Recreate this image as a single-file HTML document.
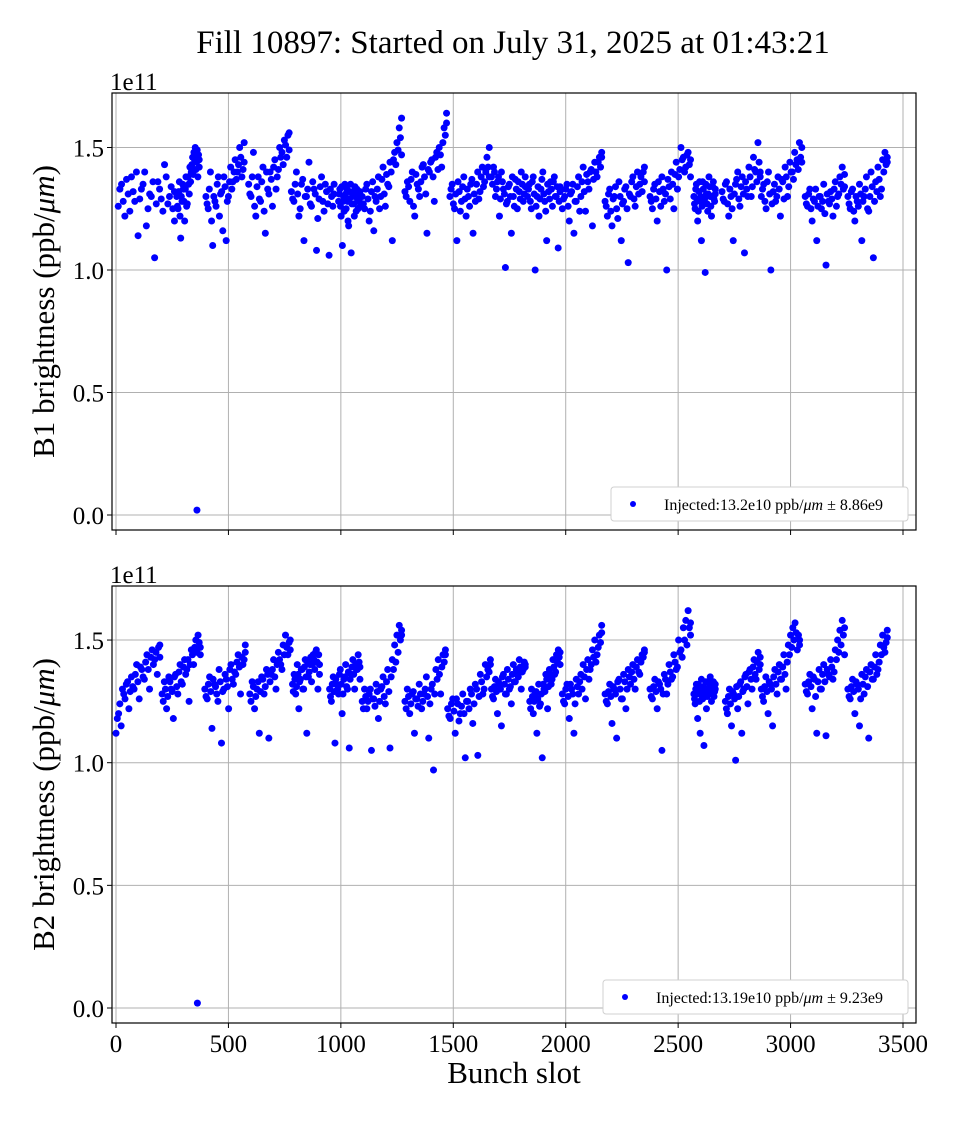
<!DOCTYPE html>
<html><head><meta charset="utf-8"><style>
body{margin:0;background:#fff}
svg{font-family:"Liberation Serif",serif}
</style></head><body>
<svg id="c" width="960" height="1120" xmlns="http://www.w3.org/2000/svg">
<text x="513" y="53" font-size="33" text-anchor="middle">Fill 10897: Started on July 31, 2025 at 01:43:21</text>
</svg>
<script>
// ---- data (values in units of 1e11 ppb/um) ----
const trainStartB1=[10,270,400,590,780,990,1095,1285,1485,1670,1830,1985,2175,2375,2570,2695,2870,3065,3255];
const trainEndB1=[260,370,570,770,970,1085,1270,1470,1660,1820,1975,2160,2350,2555,2665,2865,3050,3240,3430];
const valuesB1=[
[1.26,1.35,1.22,1.31,1.38,1.28,1.14,1.33,1.40,1.25,1.30,1.05,1.36,1.29,1.43,1.27,1.34,1.20],
[1.30,1.25,1.36,1.13,1.28,1.33,1.20,1.38,1.27,1.35,1.42,1.40,1.46,1.48,1.50,1.44,1.38,1.45],
[1.30,1.25,1.40,1.10,1.28,1.35,1.22,1.32,1.38,1.12,1.30,1.42,1.36,1.45,1.40,1.50,1.38,1.52],
[1.35,1.30,1.48,1.22,1.38,1.28,1.42,1.15,1.33,1.40,1.26,1.45,1.38,1.50,1.48,1.53,1.46,1.56],
[1.32,1.28,1.40,1.22,1.35,1.12,1.30,1.44,1.26,1.33,1.08,1.29,1.38,1.24,1.32,1.06,1.30,1.35],
[1.28,1.33,1.22,1.10,1.30,1.35,1.25,1.28,1.18,1.32,1.07,1.30,1.27,1.34,1.24,1.29,1.31,1.26],
[1.30,1.25,1.35,1.20,1.32,1.16,1.28,1.38,1.30,1.42,1.26,1.35,1.44,1.12,1.48,1.52,1.58,1.62],
[1.32,1.36,1.28,1.40,1.22,1.35,1.30,1.42,1.38,1.15,1.40,1.45,1.28,1.48,1.50,1.42,1.58,1.64],
[1.30,1.35,1.25,1.12,1.32,1.28,1.38,1.22,1.30,1.35,1.15,1.28,1.40,1.32,1.42,1.36,1.46,1.50],
[1.38,1.42,1.30,1.36,1.22,1.40,1.33,1.01,1.28,1.35,1.15,1.30,1.37,1.25,1.32,1.40,1.28,1.34],
[1.30,1.35,1.25,1.38,1.00,1.30,1.22,1.33,1.40,1.28,1.12,1.32,1.36,1.26,1.38,1.30,1.09,1.34],
[1.25,1.30,1.35,1.20,1.32,1.15,1.28,1.38,1.30,1.42,1.24,1.36,1.40,1.18,1.44,1.38,1.46,1.48],
[1.28,1.22,1.33,1.18,1.30,1.25,1.36,1.12,1.28,1.34,1.03,1.30,1.38,1.26,1.40,1.35,1.32,1.42],
[1.30,1.25,1.35,1.20,1.32,1.38,1.28,1.00,1.34,1.40,1.25,1.44,1.38,1.50,1.46,1.42,1.48,1.38],
[1.30,1.25,1.35,1.20,1.32,1.28,1.12,1.36,1.27,0.99,1.31,1.24,1.38,1.30,1.22,1.34,1.29,1.33],
[1.32,1.28,1.36,1.22,1.30,1.12,1.35,1.40,1.26,1.38,1.07,1.33,1.42,1.30,1.46,1.40,1.52,1.38],
[1.30,1.35,1.25,1.40,1.00,1.32,1.28,1.38,1.22,1.36,1.42,1.30,1.44,1.40,1.48,1.45,1.52,1.50],
[1.30,1.26,1.33,1.20,1.28,1.12,1.30,1.25,1.35,1.02,1.28,1.32,1.22,1.36,1.30,1.38,1.42,1.34],
[1.30,1.25,1.33,1.20,1.28,1.35,1.12,1.30,1.38,1.24,1.40,1.05,1.36,1.42,1.30,1.45,1.48,1.44]];
const valuesB1b=[
[1.33,1.28,1.37,1.24,1.32,1.40,1.29,1.35,1.18,1.31,1.36,1.27,1.33,1.24,1.38,1.30,1.25,1.32],
[1.26,1.32,1.22,1.30,1.35,1.28,1.33,1.26,1.38,1.31,1.36,1.43,1.39,1.45,1.41,1.49,1.47,1.42],
[1.27,1.33,1.20,1.30,1.26,1.38,1.31,1.16,1.34,1.28,1.36,1.33,1.40,1.37,1.43,1.46,1.41,1.44],
[1.31,1.38,1.26,1.34,1.29,1.36,1.24,1.40,1.31,1.37,1.42,1.33,1.41,1.46,1.43,1.51,1.55,1.49],
[1.29,1.35,1.31,1.25,1.37,1.30,1.33,1.27,1.36,1.31,1.21,1.34,1.28,1.35,1.27,1.33,1.26,1.31],
[1.31,1.26,1.34,1.28,1.24,1.31,1.33,1.20,1.29,1.35,1.27,1.32,1.22,1.30,1.33,1.25,1.28,1.32],
[1.27,1.33,1.29,1.24,1.36,1.30,1.33,1.25,1.37,1.31,1.39,1.34,1.40,1.45,1.43,1.49,1.54,1.47],
[1.30,1.34,1.37,1.26,1.39,1.33,1.36,1.43,1.31,1.41,1.44,1.38,1.46,1.41,1.47,1.52,1.55,1.60],
[1.33,1.27,1.31,1.36,1.24,1.34,1.29,1.33,1.26,1.37,1.31,1.35,1.29,1.38,1.34,1.40,1.42,1.38],
[1.35,1.40,1.33,1.38,1.29,1.36,1.31,1.27,1.34,1.30,1.38,1.26,1.33,1.36,1.29,1.35,1.31,1.38],
[1.33,1.28,1.36,1.31,1.26,1.34,1.29,1.37,1.31,1.24,1.35,1.29,1.33,1.36,1.30,1.34,1.28,1.32],
[1.29,1.33,1.26,1.31,1.35,1.28,1.34,1.24,1.36,1.32,1.39,1.33,1.41,1.37,1.40,1.44,1.42,1.46],
[1.26,1.31,1.24,1.29,1.34,1.21,1.30,1.27,1.33,1.25,1.31,1.36,1.29,1.34,1.31,1.38,1.40,1.36],
[1.28,1.33,1.29,1.36,1.26,1.33,1.31,1.37,1.29,1.35,1.39,1.33,1.41,1.45,1.40,1.47,1.43,1.45],
[1.27,1.33,1.29,1.24,1.36,1.30,1.26,1.33,1.29,1.35,1.27,1.31,1.34,1.26,1.30,1.36,1.28,1.31],
[1.29,1.35,1.27,1.33,1.25,1.31,1.37,1.29,1.34,1.31,1.36,1.30,1.38,1.34,1.41,1.36,1.44,1.40],
[1.33,1.28,1.36,1.31,1.27,1.35,1.30,1.33,1.37,1.29,1.38,1.34,1.40,1.37,1.43,1.41,1.46,1.44],
[1.27,1.31,1.25,1.29,1.33,1.26,1.30,1.28,1.23,1.31,1.27,1.29,1.33,1.26,1.31,1.35,1.33,1.39],
[1.27,1.32,1.24,1.30,1.26,1.31,1.28,1.33,1.25,1.30,1.34,1.28,1.32,1.37,1.33,1.40,1.43,1.46]];
const outlierSlotB1=[360];
const outlierValueB1=[0.02];

const trainStartB2=[0,205,395,595,785,950,1095,1285,1475,1670,1840,1985,2175,2375,2570,2710,2870,3065,3255];
const trainEndB2=[195,375,575,775,905,1085,1270,1465,1665,1820,1975,2160,2350,2555,2665,2865,3040,3240,3430];
const valuesB2=[
[1.12,1.20,1.15,1.28,1.32,1.22,1.35,1.30,1.40,1.26,1.38,1.34,1.44,1.30,1.46,1.42,1.36,1.48],
[1.28,1.33,1.22,1.35,1.30,1.18,1.36,1.28,1.40,1.32,1.42,1.38,1.25,1.46,1.40,1.50,1.52,1.44],
[1.30,1.26,1.35,1.14,1.32,1.28,1.38,1.08,1.30,1.34,1.22,1.40,1.32,1.36,1.44,1.28,1.40,1.48],
[1.28,1.33,1.22,1.30,1.12,1.35,1.28,1.38,1.10,1.36,1.42,1.30,1.45,1.40,1.48,1.52,1.44,1.50],
[1.32,1.36,1.28,1.40,1.22,1.34,1.38,1.30,1.42,1.12,1.35,1.40,1.33,1.44,1.38,1.46,1.30,1.36],
[1.30,1.25,1.35,1.08,1.32,1.28,1.38,1.20,1.34,1.40,1.30,1.06,1.36,1.42,1.30,1.38,1.44,1.34],
[1.25,1.30,1.22,1.28,1.05,1.26,1.32,1.18,1.30,1.35,1.24,1.38,1.06,1.42,1.48,1.52,1.56,1.54],
[1.25,1.30,1.20,1.28,1.12,1.26,1.32,1.22,1.28,1.35,1.10,1.30,0.97,1.38,1.42,1.28,1.44,1.46],
[1.22,1.18,1.26,1.12,1.24,1.20,1.28,1.02,1.25,1.30,1.16,1.32,1.03,1.36,1.28,1.40,1.38,1.42],
[1.30,1.26,1.34,1.20,1.32,1.15,1.36,1.28,1.38,1.30,1.24,1.40,1.33,1.36,1.42,1.30,1.38,1.40],
[1.25,1.30,1.20,1.28,1.12,1.32,1.24,1.02,1.30,1.36,1.22,1.38,1.32,1.42,1.36,1.44,1.46,1.40],
[1.28,1.24,1.32,1.18,1.30,1.12,1.34,1.28,1.36,1.40,1.26,1.42,1.38,1.46,1.50,1.44,1.52,1.56],
[1.28,1.24,1.32,1.16,1.30,1.10,1.34,1.26,1.36,1.22,1.38,1.32,1.40,1.30,1.42,1.36,1.44,1.46],
[1.30,1.26,1.34,1.22,1.32,1.05,1.36,1.28,1.40,1.34,1.44,1.38,1.50,1.46,1.55,1.58,1.62,1.52],
[1.28,1.24,1.32,1.18,1.30,1.12,1.34,1.26,1.07,1.30,1.22,1.33,1.28,1.35,1.25,1.30,1.27,1.32],
[1.25,1.20,1.30,1.15,1.28,1.01,1.22,1.32,1.12,1.30,1.36,1.24,1.38,1.30,1.42,1.34,1.45,1.40],
[1.30,1.25,1.35,1.20,1.32,1.15,1.38,1.28,1.40,1.34,1.44,1.30,1.48,1.52,1.55,1.57,1.46,1.50],
[1.32,1.28,1.36,1.22,1.34,1.12,1.38,1.30,1.40,1.11,1.36,1.42,1.34,1.46,1.50,1.54,1.58,1.44],
[1.30,1.26,1.34,1.20,1.32,1.15,1.36,1.28,1.38,1.10,1.40,1.34,1.44,1.38,1.48,1.52,1.45,1.54]];
const valuesB2b=[
[1.18,1.24,1.30,1.26,1.33,1.29,1.31,1.36,1.33,1.39,1.35,1.41,1.38,1.43,1.40,1.45,1.47,1.43],
[1.25,1.30,1.27,1.33,1.29,1.35,1.31,1.37,1.33,1.39,1.36,1.42,1.40,1.44,1.47,1.45,1.49,1.47],
[1.27,1.32,1.29,1.34,1.31,1.25,1.33,1.29,1.36,1.31,1.38,1.34,1.37,1.41,1.39,1.43,1.42,1.45],
[1.25,1.31,1.27,1.33,1.29,1.34,1.31,1.36,1.33,1.38,1.35,1.40,1.42,1.38,1.44,1.47,1.49,1.46],
[1.29,1.34,1.31,1.36,1.33,1.38,1.30,1.39,1.35,1.41,1.37,1.43,1.40,1.42,1.45,1.41,1.44,1.40],
[1.27,1.32,1.29,1.34,1.30,1.36,1.32,1.28,1.35,1.31,1.37,1.34,1.39,1.36,1.40,1.38,1.41,1.39],
[1.22,1.27,1.25,1.30,1.26,1.23,1.29,1.25,1.31,1.27,1.33,1.29,1.35,1.38,1.41,1.45,1.50,1.52],
[1.22,1.27,1.24,1.29,1.26,1.23,1.28,1.25,1.30,1.27,1.24,1.32,1.28,1.34,1.36,1.39,1.41,1.44],
[1.19,1.24,1.21,1.26,1.17,1.23,1.20,1.25,1.22,1.28,1.24,1.30,1.27,1.33,1.30,1.35,1.37,1.40],
[1.27,1.31,1.29,1.33,1.30,1.35,1.32,1.28,1.34,1.31,1.36,1.33,1.38,1.35,1.39,1.37,1.41,1.39],
[1.22,1.27,1.25,1.29,1.26,1.23,1.28,1.32,1.29,1.34,1.31,1.36,1.34,1.39,1.37,1.41,1.43,1.45],
[1.25,1.30,1.27,1.32,1.28,1.24,1.31,1.33,1.30,1.35,1.38,1.34,1.40,1.43,1.41,1.47,1.49,1.53],
[1.25,1.29,1.27,1.31,1.28,1.33,1.30,1.26,1.33,1.30,1.35,1.37,1.34,1.39,1.37,1.41,1.43,1.45],
[1.27,1.31,1.29,1.33,1.30,1.28,1.34,1.32,1.37,1.35,1.41,1.39,1.45,1.43,1.50,1.48,1.55,1.57],
[1.26,1.30,1.28,1.32,1.25,1.29,1.27,1.31,1.29,1.33,1.27,1.30,1.32,1.28,1.31,1.33,1.29,1.30],
[1.22,1.27,1.24,1.29,1.26,1.31,1.27,1.33,1.29,1.35,1.31,1.37,1.34,1.39,1.36,1.41,1.38,1.43],
[1.27,1.31,1.29,1.33,1.30,1.35,1.32,1.37,1.34,1.39,1.36,1.41,1.44,1.47,1.50,1.53,1.52,1.48],
[1.29,1.33,1.31,1.35,1.27,1.33,1.30,1.36,1.33,1.38,1.35,1.39,1.37,1.42,1.45,1.48,1.52,1.55],
[1.27,1.31,1.29,1.33,1.30,1.26,1.32,1.35,1.31,1.37,1.34,1.39,1.36,1.41,1.44,1.47,1.49,1.51]];
const outlierSlotB2=[362];
const outlierValueB2=[0.02];

const xTicks=[0,500,1000,1500,2000,2500,3000,3500];
const yTicks=[0,0.5,1.0,1.5];
const yTickLabels=["0.0","0.5","1.0","1.5"];

const NS="http://www.w3.org/2000/svg";
const svg=document.getElementById('c');
function mk(tag,attrs,parent){const e=document.createElementNS(NS,tag);for(const k in attrs)e.setAttribute(k,attrs[k]);(parent||svg).appendChild(e);return e;}
const X0=112,X1=916;
function xs(s){return 116+s*(903-116)/3500;}

function panel(cfg){
  const g=mk('g',{});
  
  
  const ys=v=>cfg.zeroY-v*cfg.scale;
  xTicks.forEach(t=>{const l=mk('line',{x1:xs(t),x2:xs(t),y1:cfg.top,y2:cfg.bot,stroke:'#b0b0b0','stroke-width':1},g);
    
    const tk=mk('line',{x1:xs(t),x2:xs(t),y1:cfg.bot,y2:cfg.bot+5,stroke:'#000'},g);
    
    if(cfg.labels){const tx=mk('text',{x:xs(t),y:cfg.bot+29,'font-size':25,'text-anchor':'middle'},g);tx.textContent=t;
      }
  });
  yTicks.forEach((t,i)=>{const l=mk('line',{x1:X0,x2:X1,y1:ys(t),y2:ys(t),stroke:'#b0b0b0','stroke-width':1},g);
    
    mk('line',{x1:X0-5,x2:X0,y1:ys(t),y2:ys(t),stroke:'#000'},g);
    const tx=mk('text',{x:X0-8,y:ys(t)+9,'font-size':25,'text-anchor':'end'},g);tx.textContent=yTickLabels[i];
    
  });
  const drawSet=(vals2,off)=>{cfg.starts.forEach((st,ti)=>{const vals=vals2[ti];const en=cfg.ends[ti];
    vals.forEach((v,i)=>{const s=st+(en-st)*Math.min(i+off,vals.length-1)/(vals.length-1);
      const c=mk('circle',{cx:xs(s),cy:ys(v),r:3.5,fill:'#0000ff'},g);
      });
  });};
  drawSet(cfg.vals,0);
  drawSet(cfg.valsB,0.5);
  cfg.oS.forEach((s,i)=>{const c=mk('circle',{cx:xs(s),cy:ys(cfg.oV[i]),r:3.5,fill:'#0000ff'},g);
    });
  const fr=mk('rect',{x:X0,y:cfg.top,width:X1-X0,height:cfg.bot-cfg.top,fill:'none',stroke:'#000','stroke-width':1.2},g);
  
  const ex=mk('text',{x:110,y:cfg.top-3,'font-size':25},g);ex.textContent='1e11';
  
  const yl=mk('text',{x:0,y:0,'font-size':31,'text-anchor':'middle',transform:`translate(54,${(cfg.top+cfg.bot)/2}) rotate(-90)`},g);
  yl.innerHTML=cfg.ylabel+' (ppb/<tspan font-style="italic">μm</tspan>)';
  
  const lg=mk('g',{},g);
  mk('rect',{x:cfg.lx,y:cfg.bot-43,width:908-cfg.lx,height:34,rx:3,fill:'#fff',stroke:'#d0d0d0'},lg);
  mk('circle',{cx:cfg.lx+22,cy:cfg.bot-26,r:3,fill:'#0000ff'},lg);
  const lt=mk('text',{x:cfg.lx+53,y:cfg.bot-20,'font-size':16},lg);
  lt.innerHTML=cfg.legend;
  
}
panel({name:'b1-panel',top:93,bot:530,zeroY:515,scale:245,starts:trainStartB1,ends:trainEndB1,vals:valuesB1,valsB:valuesB1b,oS:outlierSlotB1,oV:outlierValueB1,labels:false,ylabel:'B1 brightness',lx:611,
  legend:'Injected:13.2e10 ppb/<tspan font-style="italic">μm</tspan> ± 8.86e9'});
panel({name:'b2-panel',top:586,bot:1023,zeroY:1008,scale:245.3,starts:trainStartB2,ends:trainEndB2,vals:valuesB2,valsB:valuesB2b,oS:outlierSlotB2,oV:outlierValueB2,labels:true,ylabel:'B2 brightness',lx:603,
  legend:'Injected:13.19e10 ppb/<tspan font-style="italic">μm</tspan> ± 9.23e9'});
const xl=mk('text',{x:514,y:1083,'font-size':31,'text-anchor':'middle'});xl.textContent='Bunch slot';


</script>
</body></html>
